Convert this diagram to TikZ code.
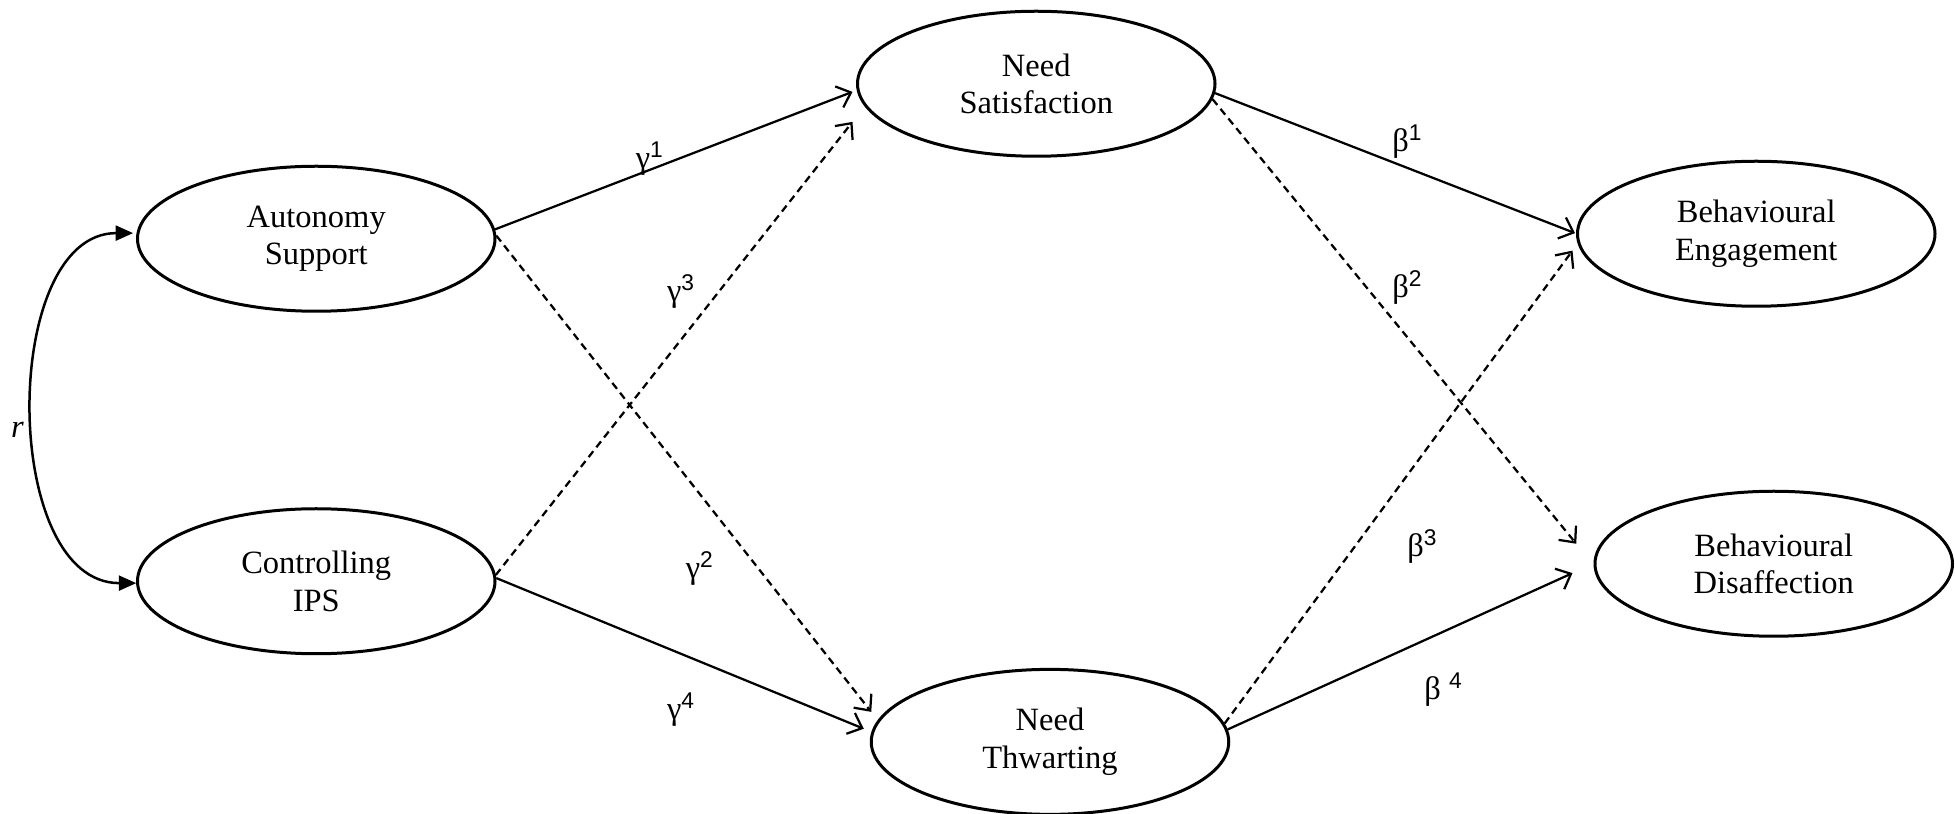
\documentclass[tikz,border=0pt]{standalone}
\usepackage{fontspec}
\setmainfont{Liberation Serif}
\newfontfamily\supfont{Liberation Sans}
\usetikzlibrary{arrows.meta,shapes.geometric}
\newcommand{\mysup}[1]{\textsuperscript{\supfont #1}}
\begin{document}
\begin{tikzpicture}[x=0.5pt,y=-0.5pt,
  lat/.style={draw,line width=1.2pt,ellipse,minimum width=143pt,minimum height=58pt,inner sep=0pt,align=center,font=\fontsize{13}{15}\selectfont},
  arr/.style={line width=0.9pt,-{Straight Barb[length=5pt,width=9pt,line width=0.9pt]}},
  darr/.style={arr,dash pattern=on 3pt off 2pt},
  lbl/.style={font=\fontsize{13}{15}\selectfont,inner sep=0pt}]
\useasboundingbox (0,0) rectangle (1564,651.2);
\node[lat] (ns) at (829,67) {Need\\Satisfaction};
\node[lat] (as) at (253,191) {Autonomy\\Support};
\node[lat] (ci) at (253,465) {Controlling\\IPS};
\node[lat] (nt) at (840,593.5) {Need\\Thwarting};
\node[lat] (be) at (1405,187) {Behavioural\\Engagement};
\node[lat] (bd) at (1419,451) {Behavioural\\Disaffection};
% arrow tips
\coordinate (t1) at (682,73.5);
\coordinate (t3) at (682,97.5);
\coordinate (t2) at (697,569.5);
\coordinate (t4) at (691,583);
\coordinate (b1) at (1260,186.5);
\coordinate (b2) at (1261,435);
\coordinate (b3) at (1258,200.5);
\coordinate (b4) at (1258,458.5);
\coordinate (rt) at (106.5,186.5);
\coordinate (rb) at (109,466.5);
\draw[arr] (as.3) -- (t1);
\draw[darr] (ci.2) -- (t3);
\draw[darr] (as.1) -- (t2);
\draw[arr] (ci.1) -- (t4);
\draw[arr] (ns.-3) -- (b1);
\draw[darr] (ns.-5) -- (b2);
\draw[darr] (nt.6) -- (b3);
\draw[arr] (nt.4) -- (b4);
\draw[line width=1pt,{Triangle[length=7pt,width=6pt]}-{Triangle[length=7pt,width=6pt]}] (rt) .. controls (0,186.5) and (0,466.5) .. (rb);
\node[lbl] (r) at (14,344) {\itshape r};
\node[lbl] (g1) at (520,127) {γ\mysup{1}};
\node[lbl] (g3) at (545,233) {γ\mysup{3}};
\node[lbl] (g2) at (560,455) {γ\mysup{2}};
\node[lbl] (g4) at (545,568) {γ\mysup{4}};
\node[lbl] (be1) at (1126,113) {β\mysup{1}};
\node[lbl] (be2) at (1126,230) {β\mysup{2}};
\node[lbl] (be3) at (1138,437) {β\mysup{3}};
\node[lbl] (be4) at (1155,552) {β \mysup{4}};
\end{tikzpicture}
\end{document}
